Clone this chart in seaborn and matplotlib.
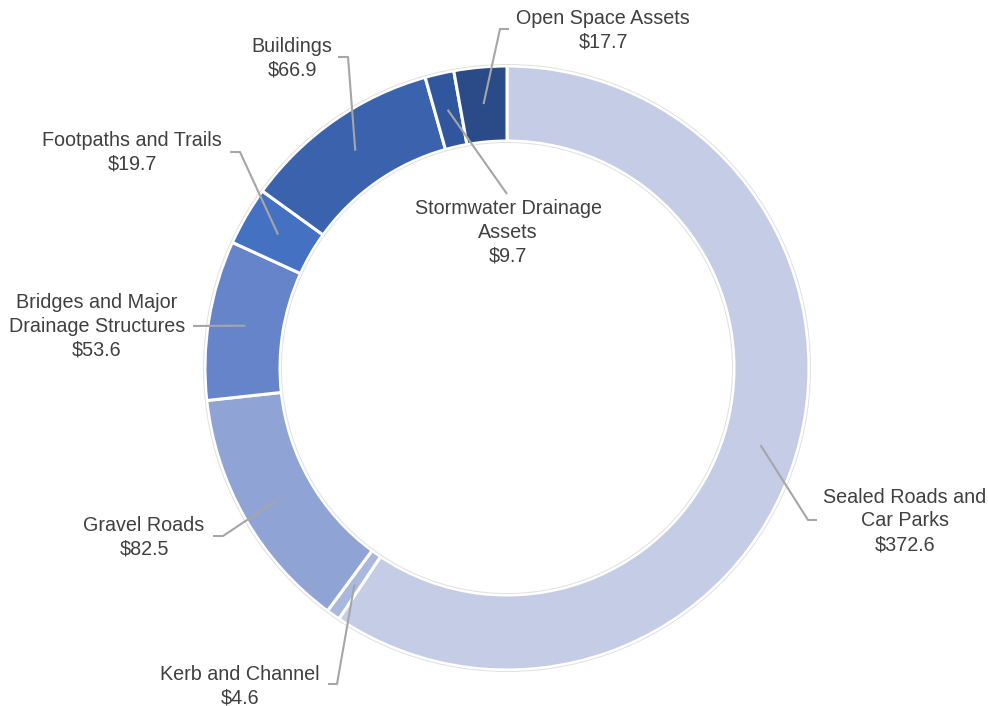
import numpy as np
import matplotlib
matplotlib.use("Agg")
import matplotlib.pyplot as plt
import seaborn as sns

# ---- data ----
categories = ["Sealed Roads and\nCar Parks", "Kerb and Channel", "Gravel Roads",
              "Bridges and Major\nDrainage Structures", "Footpaths and Trails",
              "Buildings", "Stormwater Drainage\nAssets", "Open Space Assets"]
values = [372.6, 4.6, 82.5, 53.6, 19.7, 66.9, 9.7, 17.7]
colors = ["#C5CDE6", "#AAB8DE", "#8FA3D4", "#6584C9", "#4471C1",
          "#3A62AD", "#30569D", "#2B4B88"]

# ---- layout (pixel coordinates, y from top) ----
W, H = 988, 706
CX, CY = 507, 368
R_OUT, RING_W = 302, 75
R_LEAD = 265
label_pos = [(905, 521), (240, 686), (144, 537), (97, 326), (132, 152),
             (292, 58), (508, 232), (603, 30)]
elbows = [[(808, 520), (817, 520)],
          [(337, 684), (328, 684)],
          [(223, 536), (213, 536)],
          [(193, 326)],
          [(240, 152), (230, 152)],
          [(348, 57), (338, 57)],
          [(507, 194)],
          [(500, 29), (509, 29)]]

sns.set_theme(style="white")
plt.rcParams["font.family"] = ["Liberation Sans", "DejaVu Sans"]

fig = plt.figure(figsize=(W / 100, H / 100), dpi=100)
ax = fig.add_axes([0, 0, 1, 1])
ax.set_xlim(0, W)
ax.set_ylim(0, H)
ax.set_aspect("equal")
ax.axis("off")

def P(x, y):
    return x, H - y

wedges, _ = ax.pie(values, colors=colors, startangle=90, counterclock=False,
                   radius=R_OUT, center=P(CX, CY),
                   wedgeprops=dict(width=RING_W, edgecolor="white", linewidth=2.2))
ax.set_xlim(0, W)
ax.set_ylim(0, H)

# faint ring outlines
for r in (R_OUT + 1.5, R_OUT - RING_W - 1.5):
    ax.add_patch(plt.Circle(P(CX, CY), r, fill=False, edgecolor="#E0E0E0", linewidth=0.7))

text_color = "#404040"
line_color = "#A6A6A6"
for i, (w, cat, v) in enumerate(zip(wedges, categories, values)):
    ang = np.deg2rad((w.theta1 + w.theta2) / 2)
    cx, cy = P(CX, CY)
    sx = cx + R_LEAD * np.cos(ang)
    sy = cy + R_LEAD * np.sin(ang)
    pts = [(sx, sy)] + [P(*p) for p in elbows[i]]
    xs, ys = zip(*pts)
    ax.plot(xs, ys, color=line_color, linewidth=1.5, solid_capstyle="butt")
    lx, ly = P(*label_pos[i])
    ax.text(lx, ly, f"{cat}\n${v:.1f}", ha="center", va="center",
            fontsize=14.2, color=text_color, linespacing=1.33)

fig.savefig("out.png", dpi=100)
